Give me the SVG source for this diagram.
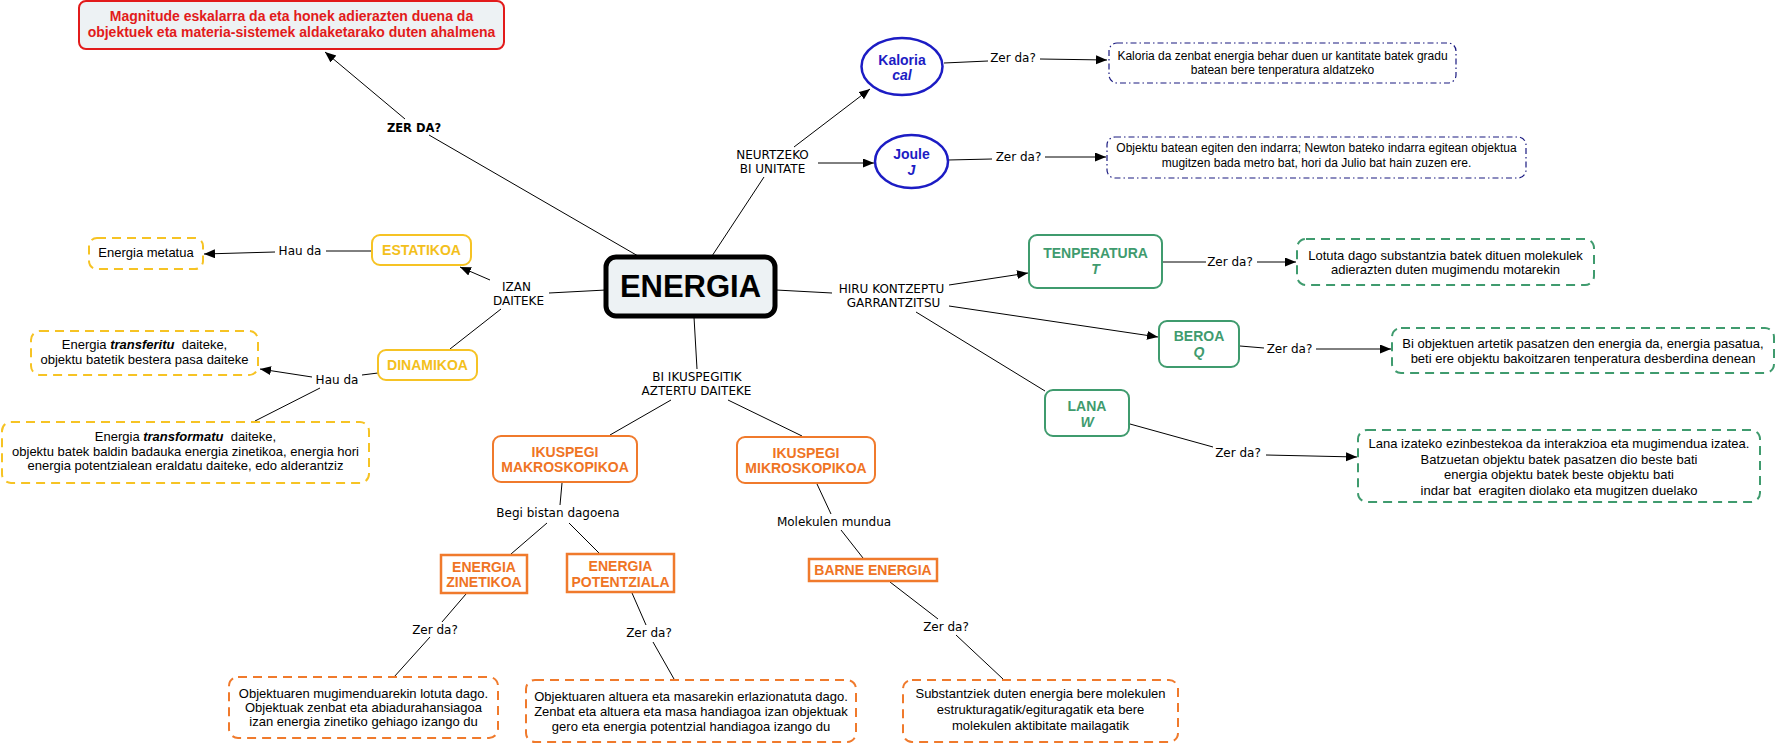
<svg xmlns="http://www.w3.org/2000/svg" width="1776" height="743" viewBox="0 0 1776 743">
<style>
  .bg{fill:#ffffff}
  .ln{stroke:#000;stroke-width:1;fill:none}
  .arr{stroke:#000;stroke-width:1;fill:none;marker-end:url(#ah)}
  .lbl{font-family:"DejaVu Sans",Verdana,sans-serif;font-size:12px;fill:#000;text-anchor:middle}
  .lblb{font-family:"DejaVu Sans",Verdana,sans-serif;font-size:11.5px;font-weight:bold;fill:#000;text-anchor:middle}
  .nt{font-family:"Liberation Sans",Arial,sans-serif;font-size:14px;font-weight:bold;text-anchor:middle}
  .dt{font-family:"Liberation Sans",Arial,sans-serif;font-size:13px;fill:#000;text-anchor:middle}
  .dt12{font-family:"Liberation Sans",Arial,sans-serif;font-size:12px;fill:#000;text-anchor:middle}
  .red{fill:#edf2f4;stroke:#e21b1b;stroke-width:2}
  .ye{fill:#fff;stroke:#f6c324;stroke-width:2}
  .yed{fill:#fff;stroke:#f6c324;stroke-width:2;stroke-dasharray:9 6}
  .gr{fill:#fff;stroke:#3f9b6e;stroke-width:2}
  .grd{fill:#fff;stroke:#3f9b6e;stroke-width:2;stroke-dasharray:9 6}
  .or{fill:#fff;stroke:#f07a2c;stroke-width:2}
  .ors{fill:#fff;stroke:#f07a2c;stroke-width:2.5}
  .ord{fill:#fff;stroke:#f07a2c;stroke-width:2;stroke-dasharray:9 6}
  .bl{fill:#fff;stroke:#1c1cc4;stroke-width:2.5}
  .bld{fill:#fff;stroke:#1a1a80;stroke-width:1.2;stroke-dasharray:6 3 1.5 3}
  .tred{fill:#e21b1b}
  .tye{fill:#f3c01c}
  .tgr{fill:#3f9b6e}
  .tor{fill:#ef7424}
  .tbl{fill:#1c1cc4}
  .bi{font-weight:bold;font-style:italic}
</style>
<defs>
  <marker id="ah" markerUnits="userSpaceOnUse" markerWidth="12" markerHeight="10" refX="11" refY="4.5" orient="auto">
    <path d="M0,0 L11,4.5 L0,9 z" fill="#000"/>
  </marker>
</defs>
<rect class="bg" x="0" y="0" width="1776" height="743"/>

<g id="connectors">
  <line class="arr" x1="405" y1="119" x2="325" y2="52"/>
  <line class="ln" x1="638" y1="256" x2="429" y2="135"/>
  <line class="ln" x1="712" y1="256" x2="764" y2="177"/>
  <line class="arr" x1="794" y1="147" x2="870" y2="89"/>
  <line class="arr" x1="818" y1="163" x2="874" y2="163"/>
  <line class="ln" x1="944" y1="63" x2="988" y2="61"/>
  <line class="arr" x1="1040" y1="59" x2="1107" y2="60"/>
  <line class="ln" x1="948" y1="160" x2="992" y2="159"/>
  <line class="arr" x1="1045" y1="157" x2="1106" y2="157"/>
  <line class="ln" x1="606" y1="290" x2="549" y2="293"/>
  <line class="arr" x1="490" y1="280" x2="460" y2="267"/>
  <line class="ln" x1="372" y1="251" x2="326" y2="251"/>
  <line class="arr" x1="275" y1="252" x2="204" y2="254"/>
  <line class="ln" x1="501" y1="309" x2="450" y2="349"/>
  <line class="ln" x1="378" y1="373" x2="362" y2="375"/>
  <line class="arr" x1="312" y1="377" x2="260" y2="369"/>
  <line class="ln" x1="320" y1="388" x2="255" y2="421"/>
  <line class="ln" x1="776" y1="290" x2="832" y2="293"/>
  <line class="arr" x1="949" y1="285" x2="1028" y2="273"/>
  <line class="ln" x1="1163" y1="262" x2="1206" y2="262"/>
  <line class="arr" x1="1257" y1="262" x2="1296" y2="262"/>
  <line class="arr" x1="949" y1="306" x2="1158" y2="337"/>
  <line class="ln" x1="1240" y1="346" x2="1264" y2="348"/>
  <line class="arr" x1="1316" y1="349" x2="1391" y2="349"/>
  <line class="ln" x1="916" y1="312" x2="1045" y2="391"/>
  <line class="ln" x1="1130" y1="424" x2="1213" y2="447"/>
  <line class="arr" x1="1266" y1="455" x2="1357" y2="457"/>
  <line class="ln" x1="694" y1="317" x2="697" y2="369"/>
  <line class="ln" x1="671" y1="400" x2="610" y2="435"/>
  <line class="ln" x1="728" y1="400" x2="802" y2="436"/>
  <line class="ln" x1="562" y1="483" x2="560" y2="505"/>
  <line class="ln" x1="547" y1="523" x2="511" y2="554"/>
  <line class="ln" x1="569" y1="523" x2="599" y2="553"/>
  <line class="ln" x1="817" y1="484" x2="831" y2="514"/>
  <line class="ln" x1="841" y1="530" x2="863" y2="558"/>
  <line class="ln" x1="890" y1="582" x2="938" y2="619"/>
  <line class="ln" x1="956" y1="635" x2="1003" y2="679"/>
  <line class="ln" x1="466" y1="594" x2="442" y2="622"/>
  <line class="ln" x1="430" y1="637" x2="394" y2="677"/>
  <line class="ln" x1="632" y1="593" x2="646" y2="625"/>
  <line class="ln" x1="653" y1="642" x2="674" y2="679"/>

  <text class="lblb" x="414" y="132">ZER DA?</text>
  <text class="lbl" x="772.5" y="159">NEURTZEKO</text>
  <text class="lbl" x="772.5" y="173">BI UNITATE</text>
  <text class="lbl" x="1013" y="62">Zer da?</text>
  <text class="lbl" x="1018.5" y="161">Zer da?</text>
  <text class="lbl" x="300" y="255">Hau da</text>
  <text class="lbl" x="516.5" y="291">IZAN</text>
  <text class="lbl" x="518.5" y="305">DAITEKE</text>
  <text class="lbl" x="337" y="384">Hau da</text>
  <text class="lbl" x="891.5" y="293">HIRU KONTZEPTU</text>
  <text class="lbl" x="893.5" y="307">GARRANTZITSU</text>
  <text class="lbl" x="1230" y="266">Zer da?</text>
  <text class="lbl" x="1289.5" y="353">Zer da?</text>
  <text class="lbl" x="1238" y="457">Zer da?</text>
  <text class="lbl" x="697" y="381">BI IKUSPEGITIK</text>
  <text class="lbl" x="696.5" y="395">AZTERTU DAITEKE</text>
  <text class="lbl" x="558" y="517">Begi bistan dagoena</text>
  <text class="lbl" x="834" y="526">Molekulen mundua</text>
  <text class="lbl" x="435" y="634">Zer da?</text>
  <text class="lbl" x="649" y="637">Zer da?</text>
  <text class="lbl" x="946" y="631">Zer da?</text>
</g>

<g id="node-definizioa">
  <rect class="red" x="79" y="1" width="425" height="48" rx="7"/>
  <text class="nt tred" x="291.5" y="21">Magnitude eskalarra da eta honek adierazten duena da</text>
  <text class="nt tred" x="291.5" y="37">objektuek eta materia-sistemek aldaketarako duten ahalmena</text>
</g>

<g id="node-energia">
  <rect x="606" y="257" width="169" height="59" rx="10" fill="#edf2f4" stroke="#000" stroke-width="5"/>
  <text x="690.5" y="297" font-family="Liberation Sans, Arial, sans-serif" font-size="31" font-weight="bold" text-anchor="middle" fill="#000">ENERGIA</text>
</g>

<g id="node-kaloria">
  <ellipse class="bl" cx="902" cy="66.5" rx="40.5" ry="28.5"/>
  <text class="nt tbl" x="902" y="65">Kaloria</text>
  <text class="nt tbl" x="902" y="80" font-style="italic">cal</text>
</g>
<g id="node-joule">
  <ellipse class="bl" cx="911.5" cy="161.5" rx="36.5" ry="26.5"/>
  <text class="nt tbl" x="911.5" y="159">Joule</text>
  <text class="nt tbl" x="911.5" y="175" font-style="italic">J</text>
</g>
<g id="node-kaloria-def">
  <rect class="bld" x="1109" y="43" width="347" height="40" rx="8"/>
  <text class="dt12" x="1282.5" y="60">Kaloria da zenbat energia behar duen ur kantitate batek gradu</text>
  <text class="dt12" x="1282.5" y="74">batean bere tenperatura aldatzeko</text>
</g>
<g id="node-joule-def">
  <rect class="bld" x="1107" y="137" width="419" height="41" rx="8"/>
  <text class="dt12" x="1316.5" y="152">Objektu batean egiten den indarra; Newton bateko indarra egitean objektua</text>
  <text class="dt12" x="1316.5" y="167">mugitzen bada metro bat, hori da Julio bat hain zuzen ere.</text>
</g>

<g id="node-estatikoa">
  <rect class="ye" x="372" y="235" width="99" height="30" rx="8"/>
  <text class="nt tye" x="421.5" y="255">ESTATIKOA</text>
</g>
<g id="node-metatua">
  <rect class="yed" x="89" y="238" width="114" height="31" rx="8"/>
  <text class="dt" x="146" y="257">Energia metatua</text>
</g>
<g id="node-dinamikoa">
  <rect class="ye" x="378" y="350" width="99" height="30" rx="8"/>
  <text class="nt tye" x="427.5" y="370">DINAMIKOA</text>
</g>
<g id="node-transferitu">
  <rect class="yed" x="31" y="331" width="227" height="44" rx="9"/>
  <text class="dt" x="144.5" y="349">Energia <tspan class="bi">transferitu</tspan>&#160; daiteke,</text>
  <text class="dt" x="144.5" y="363.5">objektu batetik bestera pasa daiteke</text>
</g>
<g id="node-transformatu">
  <rect class="yed" x="2" y="422" width="367" height="61" rx="9"/>
  <text class="dt" x="185.5" y="441">Energia <tspan class="bi">transformatu</tspan>&#160; daiteke,</text>
  <text class="dt" x="185.5" y="455.5">objektu batek baldin badauka energia zinetikoa, energia hori</text>
  <text class="dt" x="185.5" y="470">energia potentzialean eraldatu daiteke, edo alderantziz</text>
</g>

<g id="node-tenperatura">
  <rect class="gr" x="1029" y="235" width="133" height="53" rx="8"/>
  <text class="nt tgr" x="1095.5" y="258">TENPERATURA</text>
  <text class="nt tgr" x="1095.5" y="274" font-style="italic">T</text>
</g>
<g id="node-tenperatura-def">
  <rect class="grd" x="1297" y="239" width="297" height="46" rx="9"/>
  <text class="dt" x="1445.5" y="259.5">Lotuta dago substantzia batek dituen molekulek</text>
  <text class="dt" x="1445.5" y="273.5">adierazten duten mugimendu motarekin</text>
</g>
<g id="node-beroa">
  <rect class="gr" x="1159" y="321" width="80" height="46" rx="8"/>
  <text class="nt tgr" x="1199" y="341">BEROA</text>
  <text class="nt tgr" x="1199" y="357" font-style="italic">Q</text>
</g>
<g id="node-beroa-def">
  <rect class="grd" x="1392" y="328" width="382" height="45" rx="9"/>
  <text class="dt" x="1583" y="347.5">Bi objektuen artetik pasatzen den energia da, energia pasatua,</text>
  <text class="dt" x="1583" y="362.5">beti ere objektu bakoitzaren tenperatura desberdina denean</text>
</g>
<g id="node-lana">
  <rect class="gr" x="1045" y="390" width="84" height="46" rx="8"/>
  <text class="nt tgr" x="1087" y="411">LANA</text>
  <text class="nt tgr" x="1087" y="427" font-style="italic">W</text>
</g>
<g id="node-lana-def">
  <rect class="grd" x="1358" y="430" width="402" height="72" rx="9"/>
  <text class="dt" x="1559" y="448">Lana izateko ezinbestekoa da interakzioa eta mugimendua izatea.</text>
  <text class="dt" x="1559" y="463.5">Batzuetan objektu batek pasatzen dio beste bati</text>
  <text class="dt" x="1559" y="479">energia objektu batek beste objektu bati</text>
  <text class="dt" x="1559" y="494.5">indar bat&#160; eragiten diolako eta mugitzen duelako</text>
</g>

<g id="node-makro">
  <rect class="or" x="493" y="436" width="144" height="46" rx="8"/>
  <text class="nt tor" x="565" y="457">IKUSPEGI</text>
  <text class="nt tor" x="565" y="472">MAKROSKOPIKOA</text>
</g>
<g id="node-mikro">
  <rect class="or" x="737" y="437" width="138" height="46" rx="8"/>
  <text class="nt tor" x="806" y="458">IKUSPEGI</text>
  <text class="nt tor" x="806" y="473">MIKROSKOPIKOA</text>
</g>
<g id="node-zinetikoa">
  <rect class="ors" x="441" y="555" width="86" height="38"/>
  <text class="nt tor" x="484" y="572">ENERGIA</text>
  <text class="nt tor" x="484" y="587">ZINETIKOA</text>
</g>
<g id="node-potentziala">
  <rect class="ors" x="567" y="554" width="107" height="38"/>
  <text class="nt tor" x="620.5" y="571">ENERGIA</text>
  <text class="nt tor" x="620.5" y="587">POTENTZIALA</text>
</g>
<g id="node-barne">
  <rect class="ors" x="809" y="559" width="128" height="22"/>
  <text class="nt tor" x="873" y="575">BARNE ENERGIA</text>
</g>
<g id="node-zinetikoa-def">
  <rect class="ord" x="229" y="677" width="269" height="61" rx="9"/>
  <text class="dt" x="363.5" y="697.5">Objektuaren mugimenduarekin lotuta dago.</text>
  <text class="dt" x="363.5" y="711.5">Objektuak zenbat eta abiadurahansiagoa</text>
  <text class="dt" x="363.5" y="725.5">izan energia zinetiko gehiago izango du</text>
</g>
<g id="node-potentziala-def">
  <rect class="ord" x="526" y="680" width="330" height="62" rx="9"/>
  <text class="dt" x="691" y="700.5">Objektuaren altuera eta masarekin erlazionatuta dago.</text>
  <text class="dt" x="691" y="715.5">Zenbat eta altuera eta masa handiagoa izan objektuak</text>
  <text class="dt" x="691" y="730.5">gero eta energia potentzial handiagoa izango du</text>
</g>
<g id="node-barne-def">
  <rect class="ord" x="903" y="680" width="275" height="62" rx="9"/>
  <text class="dt" x="1040.5" y="697.5">Substantziek duten energia bere molekulen</text>
  <text class="dt" x="1040.5" y="713.5">estrukturagatik/egituragatik eta bere</text>
  <text class="dt" x="1040.5" y="729.5">molekulen aktibitate mailagatik</text>
</g>
</svg>
